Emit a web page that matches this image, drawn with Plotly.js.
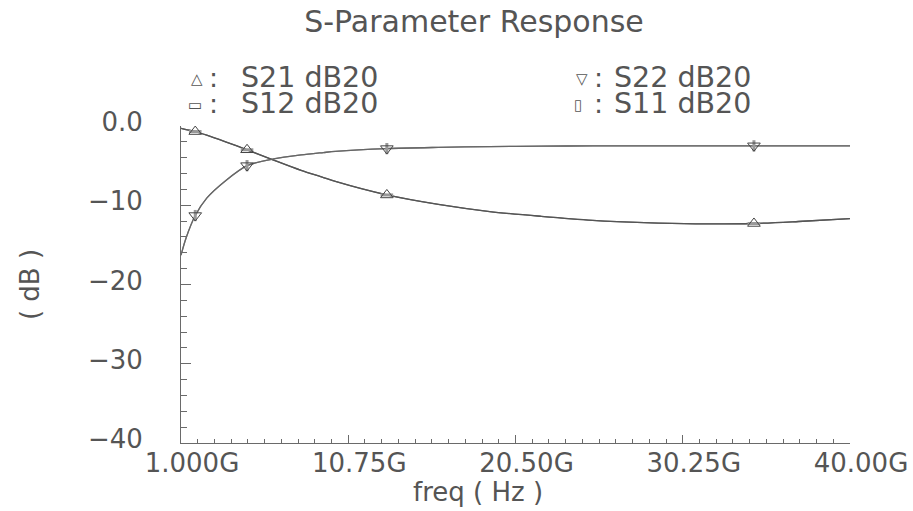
<!DOCTYPE html>
<html>
<head>
<meta charset="utf-8">
<script src="https://cdn.plot.ly/plotly-3.0.1.min.js"></script>
<style>html,body{margin:0;padding:0;background:#fff;}</style>
</head>
<body>
<div id="chart" style="width:913px;height:511px;"></div>
<script>
// ---- data (frequency in GHz, magnitude in dB) ----
const freqCurve = [1.0, 1.3, 1.83, 2.5, 3.6, 4.85, 6.4, 8.0, 9.3, 10.0, 13.0, 16.0, 19.0, 22.0, 25.0, 28.0, 31.0, 34.4, 37.0, 40.0];
const s21Curve  = [-0.3, -0.45, -0.7, -1.15, -2.0, -3.0, -4.3, -5.6, -6.5, -7.0, -8.7, -9.9, -10.8, -11.4, -11.9, -12.2, -12.35, -12.3, -12.05, -11.7];
const s12Curve  = [-0.3, -0.45, -0.7, -1.15, -2.0, -3.0, -4.3, -5.6, -6.5, -7.0, -8.7, -9.9, -10.8, -11.4, -11.9, -12.2, -12.35, -12.3, -12.05, -11.7];
const s22Curve  = [-16.3, -14.1, -11.3, -9.1, -6.9, -5.0, -4.15, -3.65, -3.35, -3.2, -2.85, -2.7, -2.6, -2.55, -2.5, -2.5, -2.5, -2.5, -2.5, -2.5];
const s11Curve  = [-16.3, -14.1, -11.3, -9.1, -6.9, -5.0, -4.15, -3.65, -3.35, -3.2, -2.85, -2.7, -2.6, -2.55, -2.5, -2.5, -2.5, -2.5, -2.5, -2.5];

const freqMarks = [1.83, 4.85, 13.0, 34.4];
const s21Marks  = [-0.7, -3.0, -8.7, -12.3];
const s12Marks  = [-0.7, -3.0, -8.7, -12.3];
const s22Marks  = [-11.3, -5.0, -2.85, -2.5];
const s11Marks  = [-11.3, -5.0, -2.85, -2.5];

const xTickVals = [1.0, 10.75, 20.5, 30.25, 40.0];
const xTickText = ["1.000G", "10.75G", "20.50G", "30.25G", "40.00G"];
const yTickVals = [0, -10, -20, -30, -40];
const yTickText = ["0.0", "\u221210", "\u221220", "\u221230", "\u221240"];

const legendGlyphs = ["\u25B3", "\u25AD", "\u25BD", "\u25AF"];
const legendNames  = ["S21 dB20", "S12 dB20", "S22 dB20", "S11 dB20"];

// ---- layout helpers ----
const W = 913, H = 511;
const M = {l: 181, r: 63, t: 126, b: 68};
const PW = W - M.l - M.r, PH = H - M.t - M.b;
const px2x = p => (p - M.l) / PW;
const py2y = p => (H - M.b - p) / PH;

const FONT = "DejaVu Sans, sans-serif";
const GFONT = "DejaVu Sans, Noto Sans CJK SC, sans-serif";
const TXT = "#555555";
const AX = "#6a6a6a";

function lineTrace(x, y, color, name) {
  return {x: x, y: y, type: "scatter", mode: "lines", name: name,
          line: {color: color, width: 1.3, shape: "spline", smoothing: 0.8},
          hoverinfo: "skip", showlegend: false};
}
function markTrace(x, y, symbol, color, lw, size, name) {
  return {x: x, y: y, type: "scatter", mode: "markers", name: name,
          marker: {symbol: symbol, size: size, color: color,
                   line: {color: color, width: lw}},
          showlegend: false};
}

const traces = [
  lineTrace(freqCurve, s12Curve, "#666", "S12 dB20"),
  lineTrace(freqCurve, s11Curve, "#888", "S11 dB20"),
  lineTrace(freqCurve, s21Curve, "#555", "S21 dB20"),
  lineTrace(freqCurve, s22Curve, "#666", "S22 dB20"),
  markTrace(freqMarks, s12Marks, "line-ew-open", "#999", 3, 9, "S12 dB20"),
  markTrace(freqMarks, s11Marks, "line-ns-open", "#999", 3, 8, "S11 dB20"),
  markTrace(freqMarks, s21Marks, "triangle-up-open", "#444", 1, 11, "S21 dB20"),
  markTrace(freqMarks, s22Marks, "triangle-down-open", "#444", 1, 11, "S22 dB20")
];

// legend built from annotations (glyph, colon, name)
const legendPos = [
  {gx: 197, cx: 213, tx: 239, y: 77},
  {gx: 195, cx: 213, tx: 239, y: 103},
  {gx: 582, cx: 598, tx: 612, y: 77},
  {gx: 578, cx: 598, tx: 612, y: 103}
];
const annotations = [];
legendNames.forEach((nm, i) => {
  const p = legendPos[i];
  annotations.push({xref: "paper", yref: "paper", x: px2x(p.gx), y: py2y(p.y + 2), text: legendGlyphs[i],
    showarrow: false, xanchor: "center", yanchor: "middle", font: {family: GFONT, size: 15, color: TXT}});
  annotations.push({xref: "paper", yref: "paper", x: px2x(p.cx), y: py2y(p.y), text: ":",
    showarrow: false, xanchor: "center", yanchor: "middle", font: {family: FONT, size: 27, color: TXT}});
  annotations.push({xref: "paper", yref: "paper", x: px2x(p.tx), y: py2y(p.y), text: nm,
    showarrow: false, xanchor: "left", yanchor: "middle", font: {family: FONT, size: 28.5, color: TXT}});
});
// x axis title (sits left of the axis centre in the reference)
annotations.push({xref: "paper", yref: "paper", x: px2x(478), y: py2y(492), text: "freq ( Hz )",
  showarrow: false, xanchor: "center", yanchor: "middle", font: {family: FONT, size: 26, color: TXT}});

const layout = {
  width: W, height: H,
  margin: M,
  paper_bgcolor: "#fff", plot_bgcolor: "#fff",
  font: {family: FONT, color: TXT},
  title: {text: "S-Parameter Response", x: 474 / W, xref: "container", xanchor: "center",
          y: 1 - 21 / H, yref: "container", yanchor: "middle",
          font: {family: FONT, size: 30, color: TXT}},
  showlegend: false,
  xaxis: {
    range: [1, 40], showgrid: false, zeroline: false,
    showline: true, linecolor: AX, linewidth: 1, mirror: false,
    tickmode: "array", tickvals: xTickVals, ticktext: xTickText,
    ticks: "inside", ticklen: 8, tickcolor: AX, tickwidth: 1,
    ticklabelstandoff: -3, ticklabelshift: 11,
    minor: {tick0: 1, dtick: 0.975, ticks: "inside", ticklen: 4, tickcolor: AX, tickwidth: 1, showgrid: false},
    tickfont: {family: FONT, size: 26, color: TXT}
  },
  yaxis: {
    range: [-40, 0], showgrid: false, zeroline: false,
    showline: true, linecolor: AX, linewidth: 1, mirror: false,
    tickmode: "array", tickvals: yTickVals, ticktext: yTickText,
    ticks: "inside", ticklen: 10, tickcolor: AX, tickwidth: 1,
    ticklabelstandoff: 32, ticklabelshift: -4,
    minor: {tick0: 0, dtick: 2, ticks: "inside", ticklen: 6, tickcolor: AX, tickwidth: 1, showgrid: false},
    tickfont: {family: FONT, size: 26, color: TXT},
    title: {text: "( dB )", font: {family: FONT, size: 26, color: TXT}, standoff: 40}
  },
  annotations: annotations
};

Plotly.newPlot("chart", traces, layout, {displayModeBar: false, staticPlot: true});
</script>
</body>
</html>
